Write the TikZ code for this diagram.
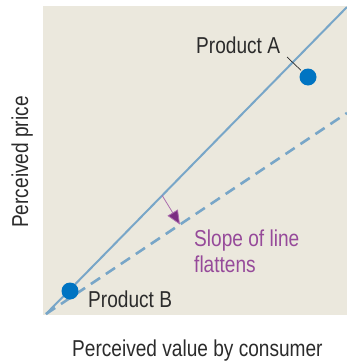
\documentclass[tikz,border=0pt]{standalone}
\usepackage{fontspec}
\setmainfont[FakeStretch=0.83]{Liberation Sans}
\usetikzlibrary{arrows.meta,positioning,calc}
\definecolor{panel}{HTML}{EBE8DD}
\definecolor{lineblue}{HTML}{78A6C8}
\definecolor{dotblue}{HTML}{0074C2}
\definecolor{purple}{HTML}{964A9A}
\definecolor{purpletip}{HTML}{7B2D82}
\definecolor{ink}{HTML}{2B2B2B}
\tikzset{
  every node/.style={font=\fontsize{23}{27}\selectfont, text=ink, inner sep=0pt},
  dot/.style={circle, fill=dotblue, minimum size=17pt},
  valueline/.style={draw=lineblue, line width=2pt},
  newline/.style={draw=lineblue, line width=2.6pt, dash pattern=on 11pt off 7pt},
  leader/.style={draw=ink, line width=0.7pt},
  shiftarrow/.style={-{Triangle[length=14pt,width=12pt,fill=purpletip]}, draw=purple!80, line width=0.8pt},
  note/.style={text=purple, align=left},
}
\begin{document}
\begin{tikzpicture}[x=1pt,y=-1pt]
\useasboundingbox (0,0) rectangle (347,362);
\fill[panel] (43,6) rectangle (347,315);
\coordinate (o) at (46,314);
\coordinate (solidEnd) at (347,7);
\coordinate (dashEnd) at (347,113);
\begin{scope}
\clip (43,6) rectangle (347,315);
\draw[valueline] (o) -- (solidEnd);
\draw[newline] (o) -- (dashEnd);
\end{scope}
% products
\node[dot] (dotA) at (308,77) {};
\node[dot] (dotB) at (70,291) {};
\node[anchor=base west] (lblA) at (196,53) {Product A};
\node[anchor=base west] (lblB) at (88,307) {Product B};
\coordinate (legA) at (287,57);
\draw[leader, shorten >=1pt] (legA) -- (dotA);
% shift of the line
\coordinate (arrS) at ($(o)!0.386!(solidEnd)$);
\coordinate (arrE) at ($(o)!0.445!(dashEnd)$);
\draw[shiftarrow] (arrS) -- (arrE);
\node[note, anchor=base west] (slope) at (194,246) {Slope of line};
\node[note, anchor=base west] (flat) at (194,272.5) {flattens};
% axes
\node[anchor=base west] (xlbl) at (72,356) {Perceived value by consumer};
\node[anchor=base west, rotate=90] (ylbl) at (28,228) {Perceived price};
\end{tikzpicture}
\end{document}
